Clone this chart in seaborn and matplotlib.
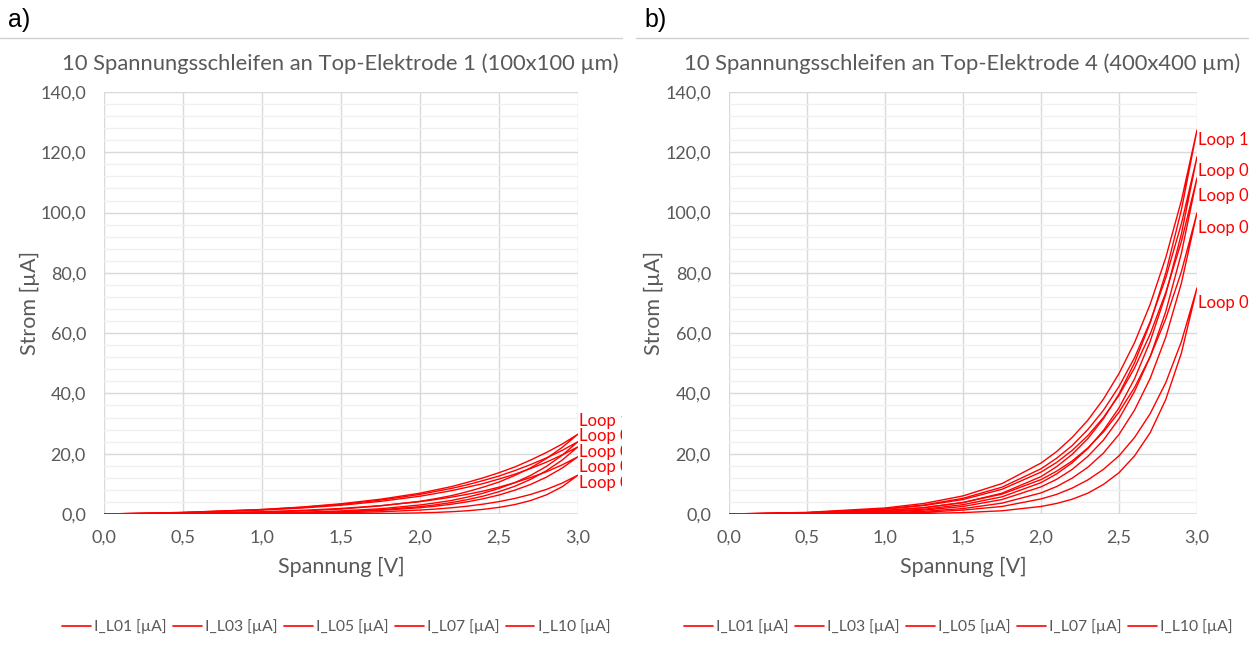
import numpy as np
import pandas as pd
import seaborn as sns
import matplotlib
matplotlib.use("Agg")
import matplotlib.pyplot as plt
from matplotlib.lines import Line2D
from matplotlib.transforms import Bbox, TransformedBbox

# ---------------- data ----------------
voltage = [0.0, 0.5, 1.0, 1.25, 1.5, 1.75, 2.0, 2.1, 2.2, 2.3, 2.4, 2.5, 2.6, 2.7, 2.8, 2.9, 3.0]

loop_names = ["I_L01 [µA]", "I_L03 [µA]", "I_L05 [µA]", "I_L07 [µA]", "I_L10 [µA]"]
loop_labels = ["Loop 01", "Loop 03", "Loop 05", "Loop 07", "Loop 10"]

# Panel a) Top-Elektrode 1 (100x100 µm): upper and lower branch of each loop
a_L01_up = [0, 0.03, 0.12, 0.23, 0.42, 0.74, 1.31, 1.64, 2.07, 2.6, 3.27, 4.1, 5.16, 6.49, 8.16, 10.26, 12.9]
a_L01_dn = [0, 0.0, 0.01, 0.03, 0.06, 0.15, 0.37, 0.53, 0.76, 1.08, 1.54, 2.2, 3.13, 4.46, 6.35, 9.05, 12.9]
a_L03_up = [0, 0.24, 0.76, 1.2, 1.84, 2.77, 4.1, 4.8, 5.6, 6.55, 7.6, 8.9, 10.4, 12.1, 14.0, 16.3, 19.0]
a_L03_dn = [0, 0.05, 0.21, 0.38, 0.68, 1.19, 2.08, 2.6, 3.25, 4.05, 5.06, 6.3, 7.9, 9.81, 12.23, 15.25, 19.0]
a_L05_up = [0, 0.45, 1.3, 1.97, 2.9, 4.2, 5.9, 6.8, 7.75, 8.9, 10.1, 11.6, 13.2, 15.1, 17.2, 19.6, 22.3]
a_L05_dn = [0, 0.06, 0.24, 0.44, 0.79, 1.4, 2.44, 3.05, 3.81, 4.75, 5.93, 7.4, 9.2, 11.5, 14.35, 17.9, 22.3]
a_L07_up = [0, 0.51, 1.46, 2.2, 3.2, 4.6, 6.5, 7.5, 8.5, 9.7, 11.1, 12.6, 14.4, 16.4, 18.6, 21.1, 24.0]
a_L07_dn = [0, 0.09, 0.33, 0.59, 1.02, 1.74, 3.0, 3.7, 4.5, 5.6, 6.9, 8.5, 10.4, 12.8, 15.8, 19.5, 24.0]
a_L10_up = [0, 0.52, 1.5, 2.3, 3.4, 4.9, 6.9, 8.0, 9.1, 10.5, 12.0, 13.7, 15.6, 17.9, 20.4, 23.2, 26.5]
a_L10_dn = [0, 0.17, 0.6, 1.0, 1.64, 2.7, 4.2, 5.1, 6.1, 7.4, 8.9, 10.6, 12.8, 15.3, 18.4, 22.1, 26.5]

# Panel b) Top-Elektrode 4 (400x400 µm)
b_L01_up = [0, 0.07, 0.3, 0.6, 1.3, 2.5, 5.0, 6.5, 8.6, 11.3, 14.8, 19.3, 25.4, 33.3, 43.6, 57.2, 75.0]
b_L01_dn = [0, 0.02, 0.08, 0.2, 0.46, 1.07, 2.5, 3.5, 4.9, 6.9, 9.8, 13.7, 19.3, 27.0, 38.0, 53.4, 75.0]
b_L03_up = [0, 0.3, 1.2, 2.1, 3.8, 6.6, 11.4, 14.2, 17.6, 21.9, 27.2, 33.8, 42.0, 52.2, 64.8, 80.4, 99.9]
b_L03_dn = [0, 0.1, 0.45, 0.9, 1.8, 3.6, 7.0, 9.1, 11.9, 15.5, 20.2, 26.4, 34.5, 45.0, 58.7, 76.6, 99.9]
b_L05_up = [0, 0.41, 1.55, 2.8, 4.8, 8.2, 13.9, 17.1, 21.1, 26.0, 32.0, 39.4, 48.5, 59.7, 73.5, 90.4, 111.5]
b_L05_dn = [0, 0.15, 0.66, 1.3, 2.5, 4.8, 9.0, 11.5, 14.8, 19.1, 24.5, 31.6, 40.7, 52.2, 67.2, 86.5, 111.5]
b_L07_up = [0, 0.45, 1.7, 3.0, 5.2, 8.9, 15.0, 18.5, 22.7, 28.0, 34.4, 42.3, 51.9, 63.8, 78.4, 96.3, 118.5]
b_L07_dn = [0, 0.2, 0.86, 1.6, 3.1, 5.7, 10.4, 13.3, 17.0, 21.7, 27.7, 35.2, 44.9, 57.3, 72.9, 92.9, 118.5]
b_L10_up = [0, 0.54, 2.0, 3.5, 6.0, 10.1, 16.9, 20.7, 25.4, 31.1, 38.1, 46.6, 56.9, 69.6, 85.1, 104.0, 127.4]
b_L10_dn = [0, 0.27, 1.1, 2.1, 3.8, 6.9, 12.4, 15.7, 19.8, 25.0, 31.6, 39.8, 50.2, 63.4, 80.0, 100.9, 127.4]

# data-label heights (Excel shifted them to avoid overlap)
a_label_y = [10.3, 15.6, 20.6, 25.9, 30.9]
b_label_y = [70.0, 94.9, 105.5, 113.8, 124.1]

xtick_values = [0.0, 0.5, 1.0, 1.5, 2.0, 2.5, 3.0]
xtick_labels = ["0,0", "0,5", "1,0", "1,5", "2,0", "2,5", "3,0"]
ytick_values = [0, 20, 40, 60, 80, 100, 120, 140]
ytick_labels = ["0,0", "20,0", "40,0", "60,0", "80,0", "100,0", "120,0", "140,0"]

titles = ["10 Spannungsschleifen an Top-Elektrode 1 (100x100 µm)",
          "10 Spannungsschleifen an Top-Elektrode 4 (400x400 µm)"]
panel_tags = ["a)", "b)"]

panels = [
    [(a_L01_up, a_L01_dn), (a_L03_up, a_L03_dn), (a_L05_up, a_L05_dn),
     (a_L07_up, a_L07_dn), (a_L10_up, a_L10_dn)],
    [(b_L01_up, b_L01_dn), (b_L03_up, b_L03_dn), (b_L05_up, b_L05_dn),
     (b_L07_up, b_L07_dn), (b_L10_up, b_L10_dn)],
]
label_ys = [a_label_y, b_label_y]


def build_frame(loops):
    rows = []
    for name, (up, dn) in zip(loop_names, loops):
        vs = voltage + voltage[::-1]
        cs = up + dn[::-1]
        for k, (v, c) in enumerate(zip(vs, cs)):
            rows.append({"loop": name, "order": k, "V": v, "I": c})
    return pd.DataFrame(rows)


# ---------------- figure ----------------
sns.set_style("white")
plt.rcParams["font.family"] = ["Lato", "DejaVu Sans"]

W, H = 1249, 659
fig = plt.figure(figsize=(W / 100, H / 100), dpi=100)

RED = "#ff0000"
GREY_TXT = "#595959"
MAJ = "#d9d9d9"
MIN = "#f0f0f0"

axes_px = [(104, 578), (729, 1197)]
top_px, bot_px = 92, 514
panel_x0 = [0, 636]
panel_x1 = [622, 1249]
ylabel_x = [40, 664]

for p in range(2):
    x0, x1 = axes_px[p]
    ax = fig.add_axes([x0 / W, (H - bot_px) / H, (x1 - x0) / W, (bot_px - top_px) / H])
    df = build_frame(panels[p])
    sns.lineplot(data=df, x="V", y="I", hue="loop", units="loop", estimator=None,
                 sort=False, palette=[RED] * 5, linewidth=1.0, legend=False, ax=ax,
                 zorder=3)
    ax.set_xlim(0, 3.0)
    ax.set_ylim(0, 140)
    ax.set_xticks(xtick_values)
    ax.set_xticklabels(xtick_labels)
    ax.set_yticks(ytick_values)
    ax.set_yticklabels(ytick_labels)
    ax.set_yticks(np.arange(0, 141, 4), minor=True)
    ax.tick_params(axis="both", which="both", length=0, labelsize=13,
                   labelcolor=GREY_TXT)
    ax.tick_params(axis="x", pad=11)
    ax.tick_params(axis="y", pad=13)
    ax.grid(True, which="major", color=MAJ, linewidth=1.0, zorder=1)
    ax.grid(True, which="minor", axis="y", color=MIN, linewidth=1.0, zorder=0)
    for s in ax.spines.values():
        s.set_visible(False)
    ax.axhline(0, color=MAJ, linewidth=1.2, zorder=2)

    ax.set_xlabel("Spannung [V]", fontsize=15.5, color=GREY_TXT)
    ax.set_ylabel("Strom [µA]", fontsize=15.5, color=GREY_TXT)
    w = x1 - x0
    ax.xaxis.set_label_coords(0.5, (bot_px - 557) / (bot_px - top_px))
    ax.yaxis.set_label_coords((ylabel_x[p] - x0) / w, 0.5)
    ax.text(0.498, (bot_px - 64) / (bot_px - top_px), titles[p], transform=ax.transAxes,
            ha="center", va="center", fontsize=15.8, color=GREY_TXT)

    # data labels at the line ends (clipped like in the source)
    clip = TransformedBbox(Bbox([[panel_x0[p] / W, 0], [panel_x1[p] / W, 1]]), fig.transFigure)
    for lab, ly in zip(loop_labels, label_ys[p]):
        t = ax.annotate(lab, xy=(3.0, ly), xytext=(1, 0), textcoords="offset points",
                        ha="left", va="center", fontsize=12, color=RED,
                        annotation_clip=False)
        t.set_clip_on(True)
        t.set_clip_box(clip)

    handles = [Line2D([0], [0], color=RED, linewidth=1.2) for _ in loop_names]
    leg = ax.legend(handles, loop_names, loc="center", ncol=5, frameon=False,
                    bbox_to_anchor=(0.49, (bot_px - 627) / (bot_px - top_px)),
                    fontsize=11.3, handlelength=1.8, handletextpad=0.2,
                    columnspacing=0.45)
    for t in leg.get_texts():
        t.set_color(GREY_TXT)

    # panel tag and separator line
    fig.text((panel_x0[p] + 8) / W, (H - 20) / H, panel_tags[p], ha="left", va="center",
             fontsize=18, color="black", family=["Liberation Sans", "DejaVu Sans"])
    fig.add_artist(Line2D([panel_x0[p] / W, panel_x1[p] / W], [(H - 38) / H, (H - 38) / H],
                          transform=fig.transFigure, color="#d0d0d0", linewidth=1.0))

fig.savefig("out.png", dpi=100, facecolor="white")
